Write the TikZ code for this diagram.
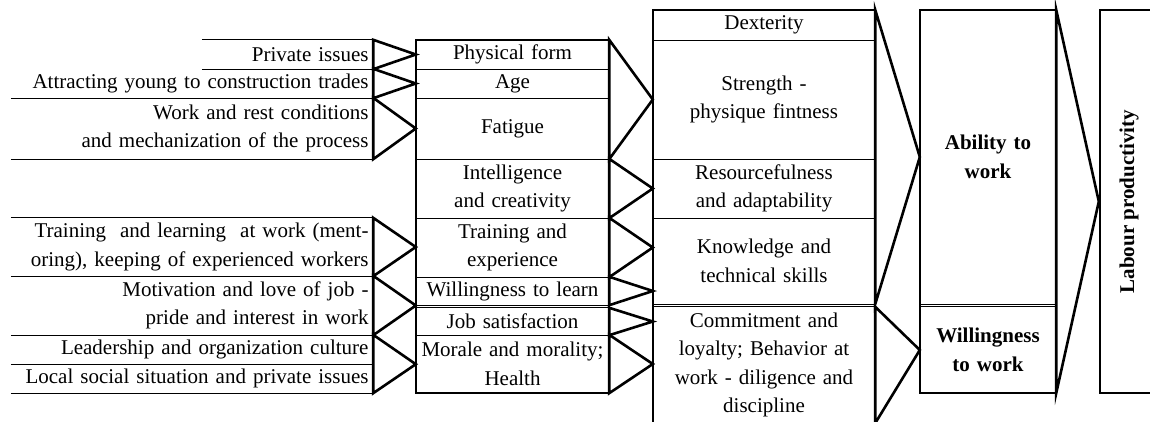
\documentclass[tikz,border=0pt]{standalone}
\usepackage{fontspec}
\setmainfont{Liberation Serif}
\newcommand\cellfont{\fontsize{21pt}{28.5pt}\selectfont}
\begin{document}
\begin{tikzpicture}
[x=1pt,y=-1pt,
  cellDecorate/.style={inner xsep=2pt,inner ysep=0pt,font=\cellfont},
  thinDecorate/.style={line width=1.2pt},
  boxDecorate/.style={line width=2.4pt},
  chevronDecorate/.style={line width=2.6pt}]
\clip (0,0) rectangle (1150,421);
%% influencing factors (left column)
\foreach \nodename/\x/\y/\tw/\h/\txt in {
  pi/287.5/54.5/162/29/{Private issues},
  ay/192/83.5/353/29/{Attracting young to construction trades},
  wr/192/128.5/353/61/{Work and rest conditions\\and mechanization of the process},
  tl/192/247/353/58/{Training\ \ and learning\ \ at work (ment-\\oring), keeping of experienced workers},
  mo/192/305.5/353/59/{Motivation and love of job -\\pride and interest in work},
  le/192/349.5/353/29/{Leadership and organization culture},
  lo/192/378.5/353/29/{Local social situation and private issues}}
{
  \node (\nodename) at (\x,\y) [cellDecorate,inner xsep=4.5pt,align=right,text width=\tw pt,minimum height=\h pt] {\txt};
}
%% personal features
\foreach \nodename/\y/\h/\txt in {
  pf/54.5/29/{Physical form}, ag/83.5/29/Age, fa/128.5/61/Fatigue,
  ic/188.5/59/{Intelligence\\and creativity}, te/247.5/59/{Training and\\experience},
  wl/291/28/{Willingness to learn}, js/321.5/27/{Job satisfaction},
  mm/364/58/{Morale and morality;\\Health}}
{
  \node (\nodename) at (512.5,\y) [cellDecorate,align=center,text width=189pt,minimum height=\h pt] {\txt};
}
%% abilities and attitudes
\foreach \nodename/\y/\h/\txt in {
  dx/25/30/Dexterity, st/99.5/119/{Strength -\\physique fintness},
  ra/188.5/59/{Resourcefulness\\and adaptability}, ks/261/86/{Knowledge and\\technical skills},
  cl/365/116/{Commitment and\\loyalty; Behavior at\\work - diligence and\\discipline}}
{
  \node (\nodename) at (764,\y) [cellDecorate,align=center,text width=218pt,minimum height=\h pt] {\txt};
}
\node (aw) at (988,157) [cellDecorate,font=\cellfont\bfseries,align=center,text width=132pt,minimum height=294pt] {Ability to\\work};
\node (ww) at (988,350) [cellDecorate,font=\cellfont\bfseries,align=center,text width=132pt,minimum height=86pt] {Willingness\\to work};
\node (lp) at (1129,201.5) [cellDecorate,font=\cellfont\bfseries,rotate=90,minimum width=383pt,minimum height=58pt,draw,boxDecorate] {Labour productivity};
%% rules between cells
\foreach \nodename in {pi,ay,wr,tl,mo,le,lo}
  \draw[thinDecorate] (\nodename.south west) -- (\nodename.south east);
\draw[thinDecorate] (pi.north west) -- (pi.north east);
\draw[thinDecorate] (tl.north west) -- (tl.north east);
\foreach \nodename in {pf,ag,fa,ic,te,wl,js,dx,st,ra,ks,aw}
  \draw[thinDecorate] (\nodename.south west) -- (\nodename.south east);
\foreach \nodename in {js,cl,ww}
  \draw[thinDecorate] (\nodename.north west) -- (\nodename.north east);
\draw[boxDecorate] (pf.north west) rectangle (mm.south east);
\draw[boxDecorate] (dx.north west) rectangle (cl.south east);
\draw[boxDecorate] (aw.north west) rectangle (ww.south east);
%% chevrons
\foreach \startnode/\endnode in {pi/pf, ay/ag, wr/fa, tl/te, mo/mm}
  \draw[chevronDecorate] (\startnode.north east) -- (\startnode.east -| \endnode.west) -- (\startnode.south east) -- cycle;
\draw[chevronDecorate] (le.north east) -- (le.south east -| mm.west) -- (lo.south east) -- cycle;
\draw[chevronDecorate] (pf.north east) -- (st.west) -- (fa.south east) -- cycle;
\draw[chevronDecorate] (ic.north east) -- (ra.west) -- (ic.south east) -- cycle;
\foreach \startnode/\endnode in {te/ks, wl/ks, js/cl, mm/cl}
  \draw[chevronDecorate] (\startnode.north east) -- (\startnode.east -| \endnode.west) -- (\startnode.south east) -- cycle;
\draw[chevronDecorate] (dx.north east) -- (aw.west) -- (ks.south east) -- cycle;
\draw[chevronDecorate] (cl.north east) -- (ww.west) -- (cl.south east) -- cycle;
\draw[chevronDecorate] (aw.north east) -- (lp.north) -- (ww.south east) -- cycle;
\end{tikzpicture}
\end{document}
